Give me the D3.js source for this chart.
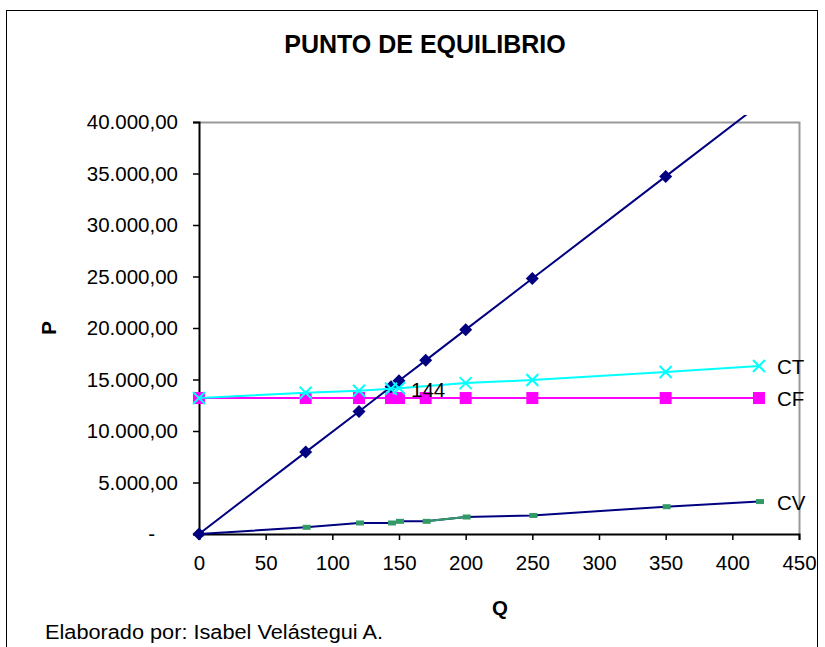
<!DOCTYPE html>
<html><head><meta charset="utf-8">
<script src="https://cdn.jsdelivr.net/npm/d3@7"></script>
<style>body{margin:0;background:#fff}svg{display:block;font-family:"Liberation Sans",Arial,sans-serif}</style>
</head><body><svg id="c" width="825" height="647"></svg>
<script>
const title = "PUNTO DE EQUILIBRIO";
const footer = "Elaborado por: Isabel Velástegui A.";
const xLabel = "Q", yLabel = "P";
const xTicks = [0, 50, 100, 150, 200, 250, 300, 350, 400, 450];
const yTicks = [0, 5000, 10000, 15000, 20000, 25000, 30000, 35000, 40000];
const qAll = [0, 80, 120, 144, 150, 170, 200, 250, 350, 420];
const ingresos = [0, 7950, 11900, 14300, 14880, 16860, 19840, 24800, 34720, 41660];
const cf = [13200, 13200, 13200, 13200, 13200, 13200, 13200, 13200, 13200, 13200];
const cv = [0, 650, 1070, 1070, 1230, 1230, 1650, 1800, 2650, 3150];
const qCT = [0, 80, 120, 144, 150, 200, 250, 350, 420];
const ct = [13200, 13720, 13900, 14100, 14160, 14650, 14950, 15730, 16310];
const eqQ = 144, eqLabel = "144";

const svg = d3.select("#c");
const L = 199, R = 799, T = 122, B = 534;
const x = d3.scaleLinear().domain([0, 450]).range([L, R]);
const y = d3.scaleLinear().domain([0, 40000]).range([B, T]);
const loc = d3.formatLocale({decimal: ",", thousands: ".", grouping: [3], currency: ["", ""]});
const fmt = loc.format(",.2f");
const FS = 20.5;

// outer border
svg.append("rect").attr("x", 6.5).attr("y", 10.5).attr("width", 811).attr("height", 700)
  .attr("fill", "none").attr("stroke", "#000").attr("stroke-width", 1);

// title
svg.append("text").attr("x", 425).attr("y", 53).attr("text-anchor", "middle")
  .attr("font-size", 25).attr("font-weight", "bold").text(title);

// plot frame (top/right gray)
svg.append("path").attr("d", `M${L},${T + 0.5}H${R + 0.5}V${B}`).attr("fill", "none")
  .attr("stroke", "#999").attr("stroke-width", 2);

// axes
const yAxis = d3.axisLeft(y).tickValues(yTicks).tickSize(6).tickPadding(15)
  .tickFormat(d => d === 0 ? "-" : fmt(d));
const gy = svg.append("g").attr("transform", `translate(${L},0)`).call(yAxis);
gy.selectAll("text").attr("font-size", FS).attr("font-family", "Liberation Sans, Arial, sans-serif").attr("fill", "#000");
gy.selectAll("text").filter(d => d === 0).attr("x", -44);
gy.select(".domain").attr("stroke", "#000").attr("stroke-width", 2);
gy.selectAll(".tick line").attr("stroke", "#000").attr("stroke-width", 1.5);

const xAxis = d3.axisBottom(x).tickValues(xTicks).tickSize(6).tickPadding(15).tickFormat(d3.format("d"));
const gx = svg.append("g").attr("transform", `translate(0,${B})`).call(xAxis);
gx.selectAll("text").attr("font-size", FS).attr("font-family", "Liberation Sans, Arial, sans-serif").attr("fill", "#000");
gx.select(".domain").attr("stroke", "#000").attr("stroke-width", 2);
gx.selectAll(".tick line").attr("stroke", "#000").attr("stroke-width", 1.5);

// axis titles
svg.append("text").attr("x", 500).attr("y", 615).attr("text-anchor", "middle")
  .attr("font-size", FS).attr("font-weight", "bold").text(xLabel);
svg.append("text").attr("transform", "translate(56,328) rotate(-90)").attr("text-anchor", "middle")
  .attr("font-size", FS).attr("font-weight", "bold").text(yLabel);

// clip
svg.append("clipPath").attr("id", "clip").append("rect").attr("x", L - 10).attr("y", 115).attr("width", R - L + 20).attr("height", B - 115 + 10);

const line = d3.line().x(d => x(d[0])).y(d => y(d[1]));
const zip = (a, b) => a.map((v, i) => [v, b[i]]);

const dI = zip(qAll, ingresos), dCF = zip(qAll, cf), dCV = zip(qAll, cv), dCT = zip(qCT, ct);

// CV line (navy) with green markers
svg.append("path").datum(dCV).attr("d", line).attr("fill", "none").attr("stroke", "#000080").attr("stroke-width", 2);
svg.append("path").datum(dCV.slice(5, 7)).attr("d", line).attr("fill", "none").attr("stroke", "#339966").attr("stroke-width", 2);
svg.append("g").selectAll("rect").data(dCV).join("rect")
  .attr("x", d => x(d[0]) - 4 + 1).attr("y", d => y(d[1]) - 2.5).attr("width", 8).attr("height", 5)
  .attr("fill", "#339966");

// CF
svg.append("path").datum(dCF).attr("d", line).attr("fill", "none").attr("stroke", "#FF00FF").attr("stroke-width", 2);
svg.append("g").selectAll("rect").data(dCF).join("rect")
  .attr("x", d => x(d[0]) - 6).attr("y", d => y(d[1]) - 6).attr("width", 12).attr("height", 12)
  .attr("fill", "#FF00FF");

// Ingresos
svg.append("path").datum(dI).attr("d", line).attr("fill", "none").attr("stroke", "#000080")
  .attr("stroke-width", 2).attr("clip-path", "url(#clip)");
svg.append("g").selectAll("path").data(dI.filter(d => d[1] <= 40000)).join("path")
  .attr("d", d => { const cx = x(d[0]), cy = y(d[1]), r = 6.5; return `M${cx},${cy - r}L${cx + r},${cy}L${cx},${cy + r}L${cx - r},${cy}Z`; })
  .attr("fill", "#000080");

// CT
svg.append("path").datum(dCT).attr("d", line).attr("fill", "none").attr("stroke", "#00FFFF").attr("stroke-width", 2);
svg.append("g").selectAll("path").data(dCT).join("path")
  .attr("d", d => { const cx = x(d[0]), cy = y(d[1]), r = 6; return `M${cx - r},${cy - r}L${cx + r},${cy + r}M${cx - r},${cy + r}L${cx + r},${cy - r}`; })
  .attr("stroke", "#00FFFF").attr("stroke-width", 2).attr("fill", "none");

// label 144
const iEq = qCT.indexOf(eqQ);
svg.append("text").attr("x", x(eqQ) + 20).attr("y", y(ct[iEq]) + 8).attr("font-size", FS).text(eqLabel);

// series end labels
const lastX = x(qAll[qAll.length - 1]) + 18;
[["CT", ct[ct.length - 1]], ["CF", cf[cf.length - 1]], ["CV", cv[cv.length - 1]]].forEach(([t, v]) => {
  svg.append("text").attr("x", lastX).attr("y", y(v) + 8).attr("font-size", FS).text(t);
});

// footer
svg.append("text").attr("x", 45).attr("y", 639).attr("font-size", 20).attr("textLength", 338)
  .attr("lengthAdjust", "spacingAndGlyphs").text(footer);
</script></body></html>
